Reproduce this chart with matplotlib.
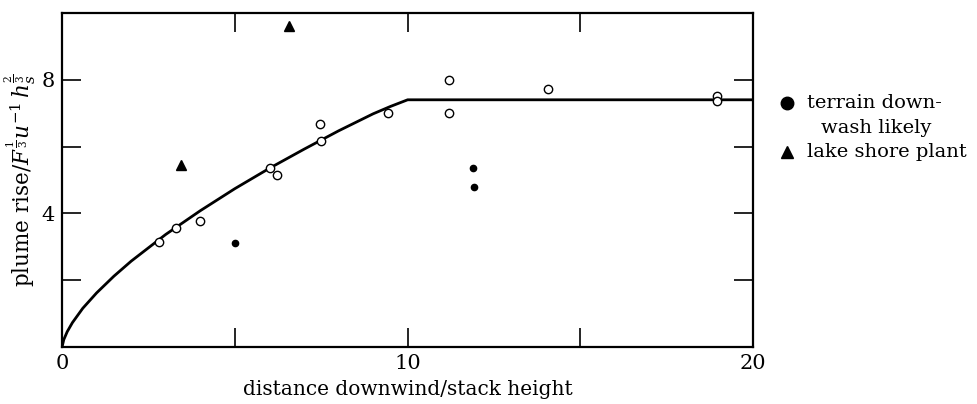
import matplotlib.pyplot as plt
from matplotlib.lines import Line2D

# curve (distance, rise)
curve_x = [0, 0.05, 0.15, 0.3, 0.6, 1, 1.5, 2, 3, 4, 5, 6, 7, 8, 9, 9.5, 10, 20]
curve_y = [0, 0.22, 0.46, 0.73, 1.16, 1.62, 2.12, 2.57, 3.37, 4.08, 4.74, 5.35, 5.92, 6.47, 6.98, 7.2, 7.4, 7.4]

# open circles
open_x = [2.81, 3.3, 4.0, 6.03, 6.23, 7.45, 7.48, 9.42, 11.19, 11.2, 14.06, 18.96, 18.96]
open_y = [3.13, 3.55, 3.76, 5.37, 5.16, 6.69, 6.18, 6.99, 8.0, 7.01, 7.73, 7.52, 7.37]

# terrain downwash likely
dot_x = [5.01, 11.88, 11.91]
dot_y = [3.1, 5.37, 4.78]

# lake shore plant
tri_x = [3.45, 6.58]
tri_y = [5.46, 9.61]

plt.rcParams['font.family'] = ['DejaVu Serif']
plt.rcParams['mathtext.fontset'] = 'dejavuserif'

fig = plt.figure(figsize=(9.77, 4.04), dpi=100)
ax = fig.add_axes([0.0635, 0.141, 0.7075, 0.827])

ax.plot(curve_x, curve_y, color='black', lw=2.0)
ax.plot(open_x, open_y, 'o', mfc='white', mec='black', mew=1.0, ms=6, ls='none')
ax.plot(dot_x, dot_y, 'o', color='black', ms=4.5, ls='none')
ax.plot(tri_x, tri_y, '^', color='black', ms=7, ls='none')

ax.set_xlim(0, 20)
ax.set_ylim(0, 10)
ax.set_xticks([0, 5, 10, 15, 20])
ax.set_xticklabels(['0', '', '10', '', '20'])
ax.set_yticks([2, 4, 6, 8])
ax.set_yticklabels(['', '4', '', '8'])
ax.tick_params(direction='in', length=14, width=1.2, top=True, right=True,
               labelsize=15, pad=5)
for s in ax.spines.values():
    s.set_linewidth(1.6)

ax.set_xlabel('distance downwind/stack height', fontsize=14.5, labelpad=5)
ax.set_ylabel(r'plume rise/$F^{\frac{1}{3}}u^{-1}\,h_s^{\frac{2}{3}}$', fontsize=15.5, labelpad=3)

# legend drawn by hand
fig.add_artist(Line2D([0.806], [0.745], marker='o', color='black', ms=9,
                      transform=fig.transFigure))
fig.text(0.826, 0.745, 'terrain down-', fontsize=14, va='center', ha='left')
fig.text(0.840, 0.683, 'wash likely', fontsize=14, va='center', ha='left')
fig.add_artist(Line2D([0.806], [0.624], marker='^', color='black', ms=8,
                      transform=fig.transFigure))
fig.text(0.826, 0.624, 'lake shore plant', fontsize=14, va='center', ha='left')

fig.savefig('out.png', dpi=100)
